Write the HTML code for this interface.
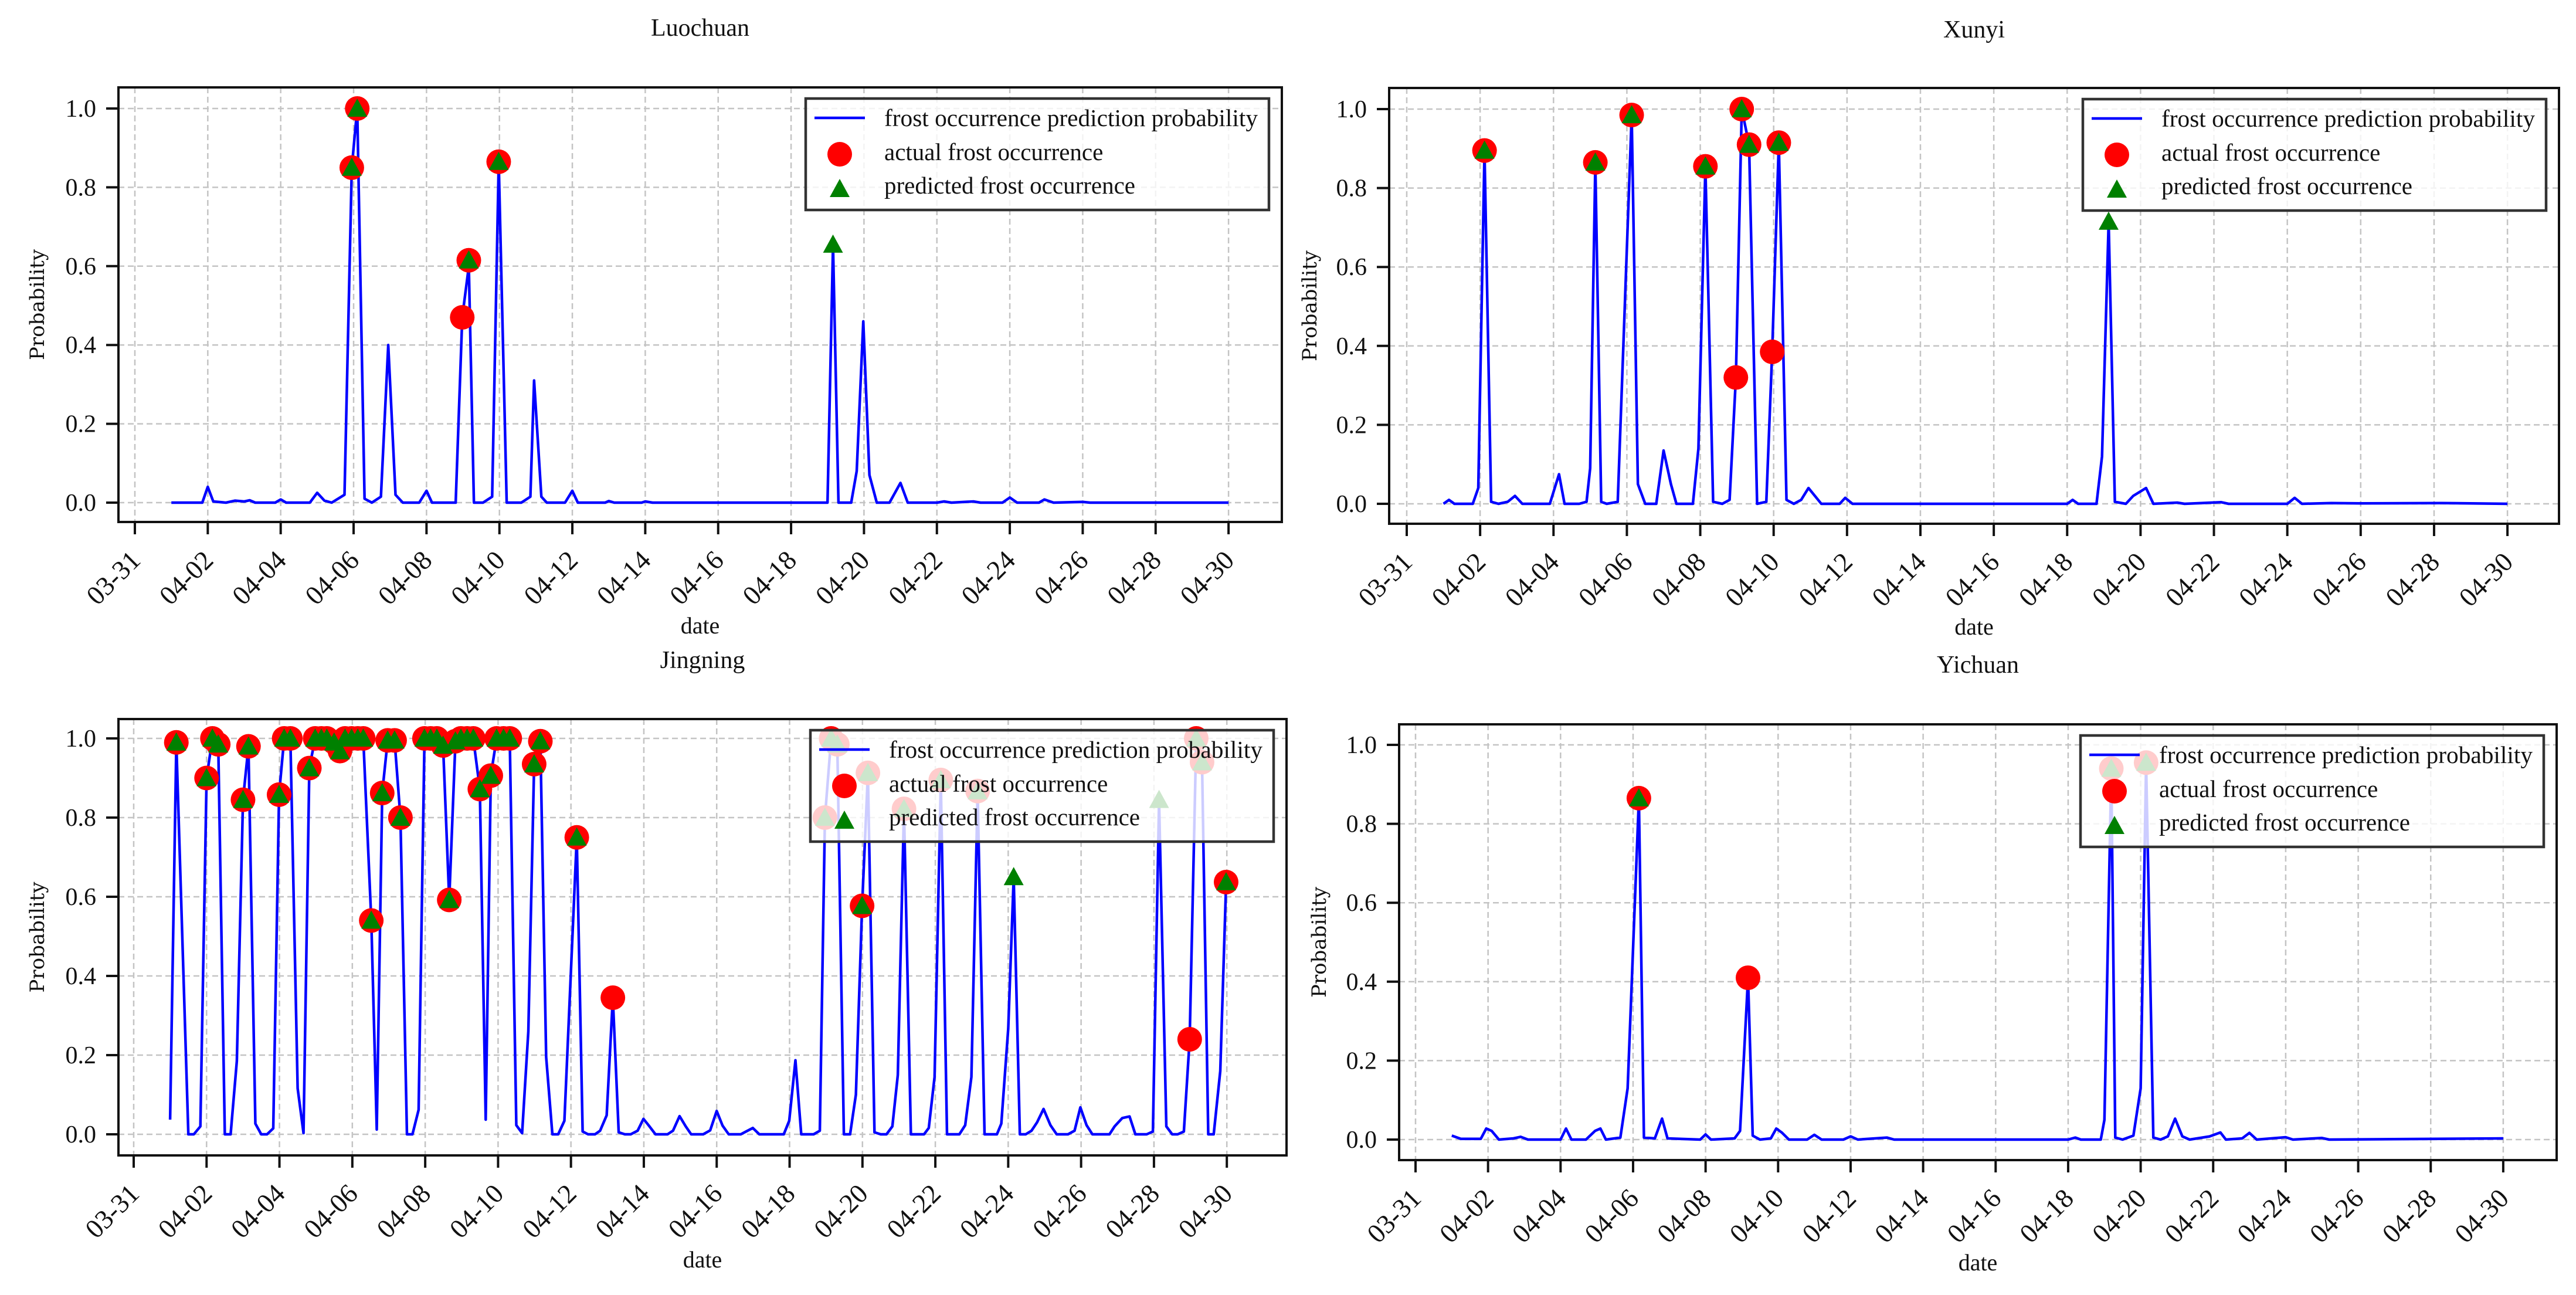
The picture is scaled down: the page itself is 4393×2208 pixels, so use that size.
<!DOCTYPE html>
<html><head><meta charset="utf-8"><style>
html,body{margin:0;padding:0;background:#fff;}
svg{display:block;font-family:"Liberation Serif","DejaVu Serif",serif;}
</style></head><body>
<svg id="fig" xmlns="http://www.w3.org/2000/svg" width="4393" height="2208" viewBox="0 0 4393 2208">
<rect x="0" y="0" width="4393" height="2208" fill="#fff"/>
</svg>
<script>
// ---------- shared tick data ----------
const xTickDays = [0,2,4,6,8,10,12,14,16,18,20,22,24,26,28,30];
const xTickLabels = ["03-31","04-02","04-04","04-06","04-08","04-10","04-12","04-14","04-16","04-18","04-20","04-22","04-24","04-26","04-28","04-30"];
const yTickValues = [0,0.2,0.4,0.6,0.8,1.0];
const yTickLabels = ["0.0","0.2","0.4","0.6","0.8","1.0"];
const legendLabels = ["frost occurrence prediction probability","actual frost occurrence","predicted frost occurrence"];

// ---------- Luochuan ----------
const luoT = [1,1.85,2,2.15,2.5,2.75,3,3.15,3.3,3.85,4,4.15,4.8,5,5.2,5.4,5.75,5.95,6.1,6.3,6.5,6.75,6.95,7.15,7.35,7.8,8,8.15,8.8,8.98,9.16,9.3,9.55,9.8,9.98,10.2,10.6,10.85,10.95,11.15,11.3,11.8,12,12.15,12.9,13,13.15,13.9,14,14.2,19,19.15,19.3,19.65,19.8,19.98,20.15,20.35,20.7,21,21.2,22,22.2,22.4,23,23.2,23.8,24,24.2,24.8,24.95,25.2,26,26.2,30];
const luoV = [0,0,0.04,0.003,0,0.005,0.003,0.006,0,0,0.008,0,0,0.025,0.005,0,0.02,0.85,1.0,0.01,0,0.015,0.4,0.02,0,0,0.03,0,0,0.47,0.6,0,0,0.015,0.865,0,0,0.015,0.31,0.015,0,0,0.03,0,0,0.004,0,0,0.003,0,0,0.655,0,0,0.08,0.46,0.07,0,0,0.05,0,0,0.003,0,0.003,0,0,0.013,0,0,0.008,0,0.002,0,0];
const luoActT = [5.95,6.1,8.98,9.16,9.98];
const luoActV = [0.85,1.0,0.47,0.615,0.865];
const luoPredT = [5.95,6.1,9.16,9.98,19.15];
const luoPredV = [0.85,1.0,0.615,0.865,0.655];

// ---------- Xunyi ----------
const xunT = [1,1.15,1.3,1.8,1.95,2.12,2.3,2.5,2.75,2.95,3.15,3.9,4.15,4.3,4.7,4.9,5.0,5.14,5.3,5.45,5.75,6.13,6.3,6.5,6.8,7.0,7.2,7.35,7.8,7.95,8.14,8.35,8.6,8.8,8.97,9.13,9.33,9.55,9.8,9.96,10.14,10.35,10.55,10.75,10.95,11.3,11.8,11.95,12.15,18,18.15,18.3,18.8,18.95,19.13,19.3,19.6,19.8,20.15,20.35,21,21.2,22.2,22.4,24,24.2,24.4,25.2,26,28.2,30];
const xunV = [0,0.01,0,0,0.04,0.895,0.005,0,0.005,0.02,0,0,0.075,0,0,0.005,0.09,0.865,0.005,0,0.005,0.985,0.05,0,0,0.135,0.05,0,0,0.14,0.855,0.005,0,0.01,0.32,1.0,0.91,0,0.005,0.385,0.915,0.01,0,0.01,0.04,0,0,0.015,0,0,0.01,0,0,0.12,0.715,0.005,0,0.02,0.04,0,0.003,0,0.004,0,0,0.015,0,0.002,0.001,0.002,0];
const xunActT = [2.12,5.14,6.13,8.14,8.97,9.13,9.33,9.96,10.14];
const xunActV = [0.895,0.865,0.985,0.855,0.32,1.0,0.91,0.385,0.915];
const xunPredT = [2.12,5.14,6.13,8.14,9.13,9.33,10.14,19.13];
const xunPredV = [0.895,0.865,0.985,0.855,1.0,0.91,0.915,0.715];

// ---------- Jingning ----------
const jinT = [1.0,1.17,1.5,1.65,1.83,2.0,2.16,2.32,2.5,2.66,2.83,3.0,3.15,3.34,3.5,3.66,3.83,3.99,4.13,4.3,4.5,4.66,4.82,4.98,5.15,5.3,5.5,5.66,5.8,5.98,6.15,6.3,6.52,6.67,6.82,6.97,7.16,7.32,7.5,7.65,7.82,7.98,8.15,8.32,8.49,8.66,8.83,8.98,9.15,9.32,9.5,9.66,9.8,9.96,10.15,10.32,10.5,10.66,10.83,10.99,11.16,11.32,11.49,11.65,11.82,12.16,12.32,12.47,12.66,12.8,12.98,13.15,13.31,13.48,13.64,13.83,13.99,14.13,14.32,14.65,14.8,14.98,15.15,15.3,15.63,15.82,16.0,16.16,16.33,16.66,16.99,17.17,17.84,17.99,18.16,18.32,18.66,18.83,18.97,19.14,19.31,19.49,19.66,19.82,19.99,20.15,20.33,20.5,20.66,20.82,20.97,21.14,21.33,21.5,21.69,21.82,21.98,22.15,22.32,22.49,22.66,22.82,22.99,23.16,23.35,23.52,23.69,23.81,24.0,24.15,24.32,24.48,24.64,24.79,24.97,25.16,25.33,25.64,25.82,25.98,26.15,26.31,26.78,26.92,27.13,27.33,27.49,27.8,27.97,28.14,28.34,28.5,28.65,28.82,28.98,29.16,29.32,29.49,29.64,29.82,29.98];
const jinV = [0.037,0.99,0,0,0.02,0.9,1.0,0.985,0,0,0.185,0.845,0.98,0.027,0,0,0.015,0.858,1.0,1.0,0.116,0.003,0.925,1.0,1.0,1.0,0.99,0.968,1.0,1.0,1.0,1.0,0.54,0.012,0.862,0.995,0.995,0.8,0,0,0.062,1.0,1.0,1.0,0.982,0.592,0.993,1.0,1.0,1.0,0.872,0.037,0.906,1.0,1.0,1.0,0.023,0.003,0.26,0.935,0.993,0.195,0,0,0.034,0.75,0.007,0,0,0.009,0.048,0.345,0.005,0,0,0.009,0.039,0.023,0,0,0.009,0.046,0.02,0,0,0.01,0.059,0.022,0,0,0.016,0,0,0.034,0.187,0,0,0.009,0.8,1.0,0.985,0,0,0.1,0.577,0.913,0.005,0,0,0.02,0.15,0.822,0,0,0,0.016,0.145,0.895,0,0,0,0.023,0.145,0.867,0,0,0,0.027,0.267,0.65,0,0,0.009,0.03,0.064,0.023,0,0,0.009,0.068,0.023,0,0,0.02,0.041,0.045,0,0,0.007,0.845,0.02,0,0,0.007,0.24,1.0,0.94,0,0,0.16,0.637];
const jinActT = [1.17,2.0,2.16,2.32,3.0,3.15,3.99,4.13,4.3,4.82,4.98,5.15,5.3,5.5,5.66,5.8,5.98,6.15,6.3,6.52,6.82,6.97,7.16,7.32,7.98,8.15,8.32,8.49,8.66,8.83,8.98,9.15,9.32,9.5,9.8,9.96,10.15,10.32,10.99,11.16,12.16,13.15,18.97,19.14,19.31,19.99,20.15,21.14,22.15,23.16,28.98,29.16,29.32,29.98];
const jinActV = [0.99,0.9,1.0,0.985,0.845,0.98,0.858,1.0,1.0,0.925,1.0,1.0,1.0,0.99,0.968,1.0,1.0,1.0,1.0,0.54,0.862,0.995,0.995,0.8,1.0,1.0,1.0,0.982,0.592,0.993,1.0,1.0,1.0,0.872,0.906,1.0,1.0,1.0,0.935,0.993,0.75,0.345,0.8,1.0,0.985,0.577,0.913,0.822,0.895,0.867,0.24,1.0,0.94,0.637];
const jinPredT = [1.17,2.0,2.16,2.32,3.0,3.15,3.99,4.13,4.3,4.82,4.98,5.15,5.3,5.5,5.66,5.8,5.98,6.15,6.3,6.52,6.82,6.97,7.16,7.32,7.98,8.15,8.32,8.49,8.66,8.83,8.98,9.15,9.32,9.5,9.8,9.96,10.15,10.32,10.99,11.16,12.16,18.97,19.14,19.31,19.99,20.15,21.14,22.15,23.16,24.15,28.14,29.16,29.32,29.98];
const jinPredV = [0.99,0.9,1.0,0.985,0.845,0.98,0.858,1.0,1.0,0.925,1.0,1.0,1.0,0.99,0.968,1.0,1.0,1.0,1.0,0.54,0.862,0.995,0.995,0.8,1.0,1.0,1.0,0.982,0.592,0.993,1.0,1.0,1.0,0.872,0.906,1.0,1.0,1.0,0.935,0.993,0.75,0.8,1.0,0.985,0.577,0.913,0.822,0.895,0.867,0.65,0.845,1.0,0.94,0.637];

// ---------- Yichuan ----------
const yicT = [1,1.25,1.8,1.95,2.1,2.3,2.7,2.9,3.1,4.0,4.15,4.3,4.7,4.95,5.1,5.25,5.65,5.85,6.16,6.3,6.6,6.8,6.95,7.85,8.0,8.15,8.8,8.95,9.17,9.3,9.5,9.8,9.95,10.1,10.3,10.8,11.0,11.2,11.8,12.0,12.2,13.0,13.2,18.0,18.2,18.35,18.9,19.0,19.19,19.3,19.5,19.8,20.0,20.15,20.35,20.55,20.75,20.95,21.15,21.35,21.9,22.2,22.35,22.8,23.0,23.2,24.0,24.2,25.0,25.2,30];
const yicV = [0.01,0.002,0.002,0.028,0.022,0,0.003,0.007,0,0,0.028,0,0,0.022,0.028,0,0.005,0.13,0.865,0.005,0.003,0.053,0.003,0,0.013,0,0.003,0.022,0.41,0.01,0,0.003,0.028,0.018,0,0,0.012,0,0,0.008,0,0.005,0,0,0.005,0,0,0.05,0.94,0.005,0,0.01,0.13,0.955,0.005,0,0.008,0.053,0.008,0,0.008,0.018,0,0.003,0.017,0,0.006,0,0.004,0,0.003];
const yicActT = [6.16,9.17,19.19,20.15];
const yicActV = [0.865,0.41,0.94,0.955];
const yicPredT = [6.16,19.19,20.15];
const yicPredV = [0.865,0.94,0.955];

const NS = "http://www.w3.org/2000/svg";
const svg = document.getElementById('fig');
function mk(tag, attrs, parent){
  const e = document.createElementNS(NS, tag);
  for (const k in attrs) e.setAttribute(k, attrs[k]);
  (parent||svg).appendChild(e);
  return e;
}

const panels = [
  {key:'luochuan', title:'Luochuan', L:202,R:2186,T:149,B:890, x0:230,dx:62.17, y0:857,yk:672, titleY:61, dateY:1080, probX:63,
   t:luoT,v:luoV,at:luoActT,av:luoActV,pt:luoPredT,pv:luoPredV},
  {key:'xunyi', title:'Xunyi', L:2369,R:4364,T:150,B:893, x0:2399,dx:62.57, y0:859,yk:673, titleY:64, dateY:1082, probX:2233,
   t:xunT,v:xunV,at:xunActT,av:xunActV,pt:xunPredT,pv:xunPredV},
  {key:'jingning', title:'Jingning', L:202,R:2194,T:1226,B:1970, x0:228,dx:62.14, y0:1934,yk:675, titleY:1139, dateY:2161, probX:63,
   t:jinT,v:jinV,at:jinActT,av:jinActV,pt:jinPredT,pv:jinPredV},
  {key:'yichuan', title:'Yichuan', L:2386,R:4360,T:1235,B:1978, x0:2414,dx:61.83, y0:1943,yk:673, titleY:1147, dateY:2166, probX:2249,
   t:yicT,v:yicV,at:yicActT,av:yicActV,pt:yicPredT,pv:yicPredV}
];

function triPts(cx, cy){
  return (cx)+','+(cy-17)+' '+(cx-17)+','+(cy+14)+' '+(cx+17)+','+(cy+14);
}

panels.forEach(p => {
  const xs = t => p.x0 + t * p.dx;
  const ys = v => p.y0 - v * p.yk;
  const g = mk('g', {});
  
  

  const tt = mk('text', {x:(p.L+p.R)/2, y:p.titleY, 'text-anchor':'middle', 'font-size':42, fill:'#111'}, g);
  tt.textContent = p.title;
  
  

  const grid = mk('g', {stroke:'#c4c4c4', 'stroke-width':2.5, 'stroke-dasharray':'10 6', fill:'none'}, g);
  
  
  xTickDays.forEach(d => { mk('line', {x1:xs(d), x2:xs(d), y1:p.T, y2:p.B}, grid); });
  yTickValues.forEach(v => { mk('line', {x1:p.L, x2:p.R, y1:ys(v), y2:ys(v)}, grid); });

  let d = '';
  p.t.forEach((t,i) => { d += (i ? 'L' : 'M') + xs(t).toFixed(1) + ',' + ys(p.v[i]).toFixed(1); });
  const path = mk('path', {d:d, fill:'none', stroke:'#0000ff', 'stroke-width':4.5, 'stroke-linejoin':'round'}, g);
  
  

  p.at.forEach((t,i) => {
    const c = mk('ellipse', {cx:xs(t), cy:ys(p.av[i]), rx:21, ry:21, fill:'#ff0000'}, g);
    
    
  });
  p.pt.forEach((t,i) => {
    const tr = mk('polygon', {points:triPts(xs(t), ys(p.pv[i])), fill:'#008000'}, g);
    
    
  });

  const frame = mk('rect', {x:p.L, y:p.T, width:p.R-p.L, height:p.B-p.T, fill:'none', stroke:'#111', 'stroke-width':4}, g);
  
  

  xTickDays.forEach((dd,i) => {
    const x = xs(dd);
    mk('line', {x1:x, x2:x, y1:p.B, y2:p.B+21, stroke:'#111', 'stroke-width':4}, g);
    const lx = x + 12, ly = p.B + 68;
    const lab = mk('text', {x:lx, y:ly, 'text-anchor':'end', 'font-size':46, fill:'#111', transform:'rotate(-45 '+lx+' '+ly+')'}, g);
    lab.textContent = xTickLabels[i];
    
    
  });
  yTickValues.forEach((v,i) => {
    const y = ys(v);
    mk('line', {x1:p.L-21, x2:p.L, y1:y, y2:y, stroke:'#111', 'stroke-width':4}, g);
    const lab = mk('text', {x:p.L-38, y:y+14, 'text-anchor':'end', 'font-size':42, fill:'#111'}, g);
    lab.textContent = yTickLabels[i];
    
    
  });

  const xl = mk('text', {x:(p.L+p.R)/2, y:p.dateY, 'text-anchor':'middle', 'font-size':40, fill:'#111'}, g);
  xl.textContent = 'date';
  
  
  const cy = (p.T+p.B)/2;
  const yl = mk('text', {x:p.probX+12, y:cy, 'text-anchor':'middle', 'font-size':34, 'font-family':'"DejaVu Serif", serif', fill:'#111', transform:'rotate(-90 '+(p.probX+12)+' '+cy+')'}, g);
  yl.textContent = 'Probability';
  
  

  const bx = p.R - 22 - 790, by = p.T + 19;
  const lg = mk('g', {}, g);
  
  
  mk('rect', {x:bx, y:by, width:790, height:190, fill:'#fff', 'fill-opacity':0.8, stroke:'#333', 'stroke-width':4.5}, lg);
  mk('line', {x1:bx+15, x2:bx+101, y1:by+33, y2:by+33, stroke:'#0000ff', 'stroke-width':4.5}, lg);
  mk('ellipse', {cx:bx+58, cy:by+95, rx:21, ry:21, fill:'#ff0000'}, lg);
  mk('polygon', {points:triPts(bx+58, by+154), fill:'#008000'}, lg);
  const ys3 = [by+47, by+105, by+162];
  legendLabels.forEach((s,i) => {
    const t = mk('text', {x:bx+134, y:ys3[i], 'font-size':41, fill:'#111'}, lg);
    if (i === 0) { t.setAttribute('textLength', 637); t.setAttribute('lengthAdjust', 'spacingAndGlyphs'); }
    t.textContent = s;
    
    
  });
});
</script>
</body></html>
